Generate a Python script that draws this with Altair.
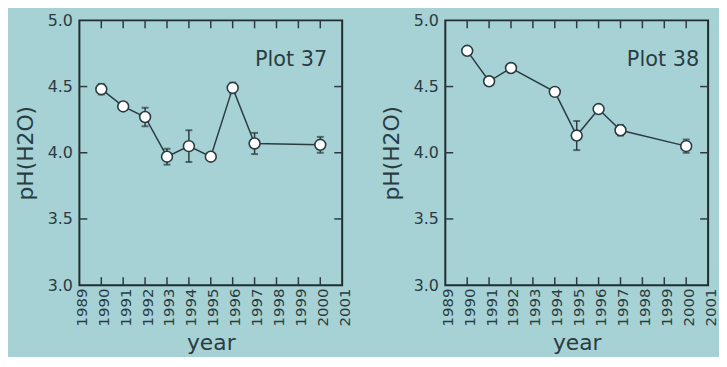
import altair as alt
import pandas as pd

years37 = [1990, 1991, 1992, 1993, 1994, 1995, 1996, 1997, 2000]
ph37 = [4.48, 4.35, 4.27, 3.97, 4.05, 3.97, 4.49, 4.07, 4.06]
err37 = [0.04, 0.0, 0.07, 0.06, 0.12, 0.0, 0.04, 0.08, 0.06]

years38 = [1990, 1991, 1992, 1994, 1995, 1996, 1997, 2000]
ph38 = [4.77, 4.54, 4.64, 4.46, 4.13, 4.33, 4.17, 4.05]
err38 = [0.0, 0.0, 0.0, 0.0, 0.11, 0.0, 0.04, 0.05]

year_ticks = list(range(1989, 2002))
ph_ticks = [3.0, 3.5, 4.0, 4.5, 5.0]
inner_ph_ticks = [3.5, 4.0, 4.5]

BG = "#a6d2d6"
INK = "#2a3c41"
FONT = "DejaVu Sans"
W, H = 265, 267
TL = 8
XFS = 15
YFS = 16

def panel(years, ph, err, label, rpad):
    df = pd.DataFrame({"year": years, "ph": ph, "err": err})
    df["lo"] = df["ph"] - df["err"]
    df["hi"] = df["ph"] + df["err"]
    xs = alt.Scale(domain=[1989, 2001], nice=False, zero=False)
    ys = alt.Scale(domain=[3.0, 5.0], nice=False, zero=False)
    xax = alt.Axis(values=year_ticks, format="d", labelAngle=-90, title="year",
                   labelPadding=3, labelOffset=2, titlePadding=7, labelFontSize=XFS,
                   labelFont=FONT, labelColor=INK)
    yax = alt.Axis(values=ph_ticks, format=".1f", title="pH(H2O)",
                   labelPadding=7, titlePadding=10, labelFontSize=YFS,
                   labelFont=FONT, labelColor=INK)
    base = alt.Chart(df)
    X = alt.X("year:Q", scale=xs, axis=xax)
    line = base.mark_line(color=INK, strokeWidth=1.5).encode(
        x=X, y=alt.Y("ph:Q", scale=ys, axis=yax))
    ebdf = base.transform_filter("datum.err > 0")
    eb = ebdf.mark_rule(color=INK, strokeWidth=1.5).encode(
        x=X, y=alt.Y("lo:Q", scale=ys, axis=yax), y2="hi:Q")
    caps_hi = ebdf.mark_tick(color=INK, thickness=2, size=7, orient="horizontal").encode(
        x=X, y=alt.Y("hi:Q", scale=ys, axis=yax))
    caps_lo = ebdf.mark_tick(color=INK, thickness=2, size=7, orient="horizontal").encode(
        x=X, y=alt.Y("lo:Q", scale=ys, axis=yax))
    pts = base.mark_point(filled=True, fill="white", stroke=INK, strokeWidth=1.6, size=120,
                          opacity=1, shape="circle").encode(
        x=X, y=alt.Y("ph:Q", scale=ys, axis=yax))
    tdf = pd.DataFrame({"year": year_ticks[1:-1]})
    top_t = alt.Chart(tdf).mark_rule(color=INK, strokeWidth=1.5).encode(
        x=X, y=alt.value(0), y2=alt.value(TL))
    bot_t = alt.Chart(tdf).mark_rule(color=INK, strokeWidth=1.5).encode(
        x=X, y=alt.value(H), y2=alt.value(H - TL))
    ydf = pd.DataFrame({"ph": inner_ph_ticks})
    left_t = alt.Chart(ydf).mark_rule(color=INK, strokeWidth=1.5).encode(
        y=alt.Y("ph:Q", scale=ys, axis=yax), x=alt.value(0), x2=alt.value(TL))
    right_t = alt.Chart(ydf).mark_rule(color=INK, strokeWidth=1.5).encode(
        y=alt.Y("ph:Q", scale=ys, axis=yax), x=alt.value(W - TL), x2=alt.value(W))
    txt = alt.Chart(pd.DataFrame({"t": [label]})).mark_text(
        align="right", baseline="top", fontSize=21, color=INK, font=FONT).encode(
        text="t:N", x=alt.value(W - rpad), y=alt.value(29))
    return alt.layer(line, eb, caps_hi, caps_lo, pts, top_t, bot_t, left_t, right_t, txt).properties(
        width=W, height=H)

chart = alt.hconcat(
    panel(years37, ph37, err37, "Plot 37", 15),
    panel(years38, ph38, err38, "Plot 38", 9),
    spacing=26,
).properties(background=BG, padding={"left": 5, "top": 2, "right": 0, "bottom": 0}).configure_view(
    stroke="#1f2d30", strokeWidth=2, fill=BG
).configure_axis(
    ticks=False, domain=False, grid=False, labelColor=INK, labelFont=FONT,
    titleFontSize=22, titleColor=INK, titleFont=FONT, titleFontWeight="normal",
    labelOverlap=False, labelFlush=False
).configure_axisX(labelFontSize=XFS).configure_axisY(labelFontSize=YFS)

chart.save("out.html", embed_options={"renderer": "svg", "actions": False})
